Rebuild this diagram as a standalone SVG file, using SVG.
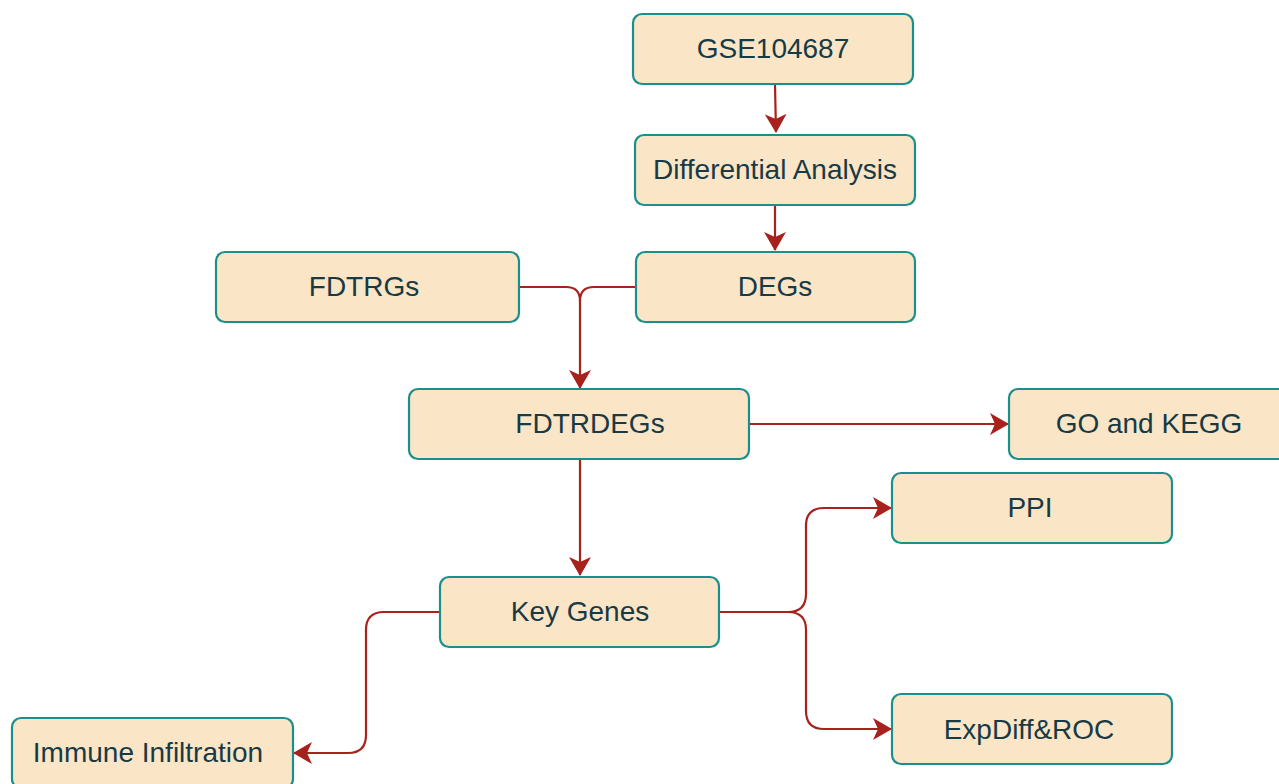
<svg xmlns="http://www.w3.org/2000/svg" width="1279" height="784" viewBox="0 0 1279 784">
<style>
.box{fill:#fae5c7;stroke:#1a8f8c;stroke-width:2.2}
.lbl{font-family:"Liberation Sans",Arial,sans-serif;font-size:28px;fill:#173a45;text-anchor:middle;dominant-baseline:central}
.edge{fill:none;stroke:#a8211c;stroke-width:2.2}
</style>
<defs>
<marker id="ah" markerUnits="userSpaceOnUse" markerWidth="22" markerHeight="22" refX="18" refY="11" orient="auto" viewBox="0 0 22 22">
<path d="M0,0 L19,11 L0,22 L5,11 Z" fill="#a8211c"/>
</marker>
</defs>
<rect width="1279" height="784" fill="#ffffff"/>
<g id="connectors">
<path class="edge" d="M775,85 L776,132" marker-end="url(#ah)"/>
<path class="edge" d="M775,206 L775,250" marker-end="url(#ah)"/>
<path class="edge" d="M519,287 L566,287 Q580,287 580,301 L580,388" marker-end="url(#ah)"/>
<path class="edge" d="M636,287 L594,287 Q580,287 580,301"/>
<path class="edge" d="M749,424 L1008,424" marker-end="url(#ah)"/>
<path class="edge" d="M580,460 L580,575" marker-end="url(#ah)"/>
<path class="edge" d="M719,612 L788,612 Q806,612 806,594 L806,526 Q806,508 824,508 L891,508" marker-end="url(#ah)"/>
<path class="edge" d="M788,612 Q806,612 806,630 L806,711 Q806,729 824,729 L891,729" marker-end="url(#ah)"/>
<path class="edge" d="M440,612 L384,612 Q366,612 366,630 L366,735 Q366,753 348,753 L294,753" marker-end="url(#ah)"/>
</g>
<g id="n-gse"><rect class="box" x="633" y="14" width="280" height="70" rx="9"/><text class="lbl" x="773" y="48">GSE104687</text></g>
<g id="n-diff"><rect class="box" x="635" y="135" width="280" height="70" rx="9"/><text class="lbl" x="775" y="169">Differential Analysis</text></g>
<g id="n-fdtrgs"><rect class="box" x="216" y="252" width="303" height="70" rx="9"/><text class="lbl" x="364" y="286">FDTRGs</text></g>
<g id="n-degs"><rect class="box" x="636" y="252" width="279" height="70" rx="9"/><text class="lbl" x="775" y="286">DEGs</text></g>
<g id="n-fdtrdegs"><rect class="box" x="409" y="389" width="340" height="70" rx="9"/><text class="lbl" x="590" y="423">FDTRDEGs</text></g>
<g id="n-gokegg"><rect class="box" x="1009" y="389" width="280" height="70" rx="9"/><text class="lbl" x="1149" y="423">GO and KEGG</text></g>
<g id="n-ppi"><rect class="box" x="892" y="473" width="280" height="70" rx="9"/><text class="lbl" x="1030" y="507">PPI</text></g>
<g id="n-key"><rect class="box" x="440" y="577" width="279" height="70" rx="9"/><text class="lbl" x="580" y="611">Key Genes</text></g>
<g id="n-exp"><rect class="box" x="892" y="694" width="280" height="70" rx="9"/><text class="lbl" x="1029" y="729">ExpDiff&amp;ROC</text></g>
<g id="n-immune"><rect class="box" x="12" y="718" width="281" height="70" rx="9"/><text class="lbl" x="148" y="752">Immune Infiltration</text></g>
</svg>
